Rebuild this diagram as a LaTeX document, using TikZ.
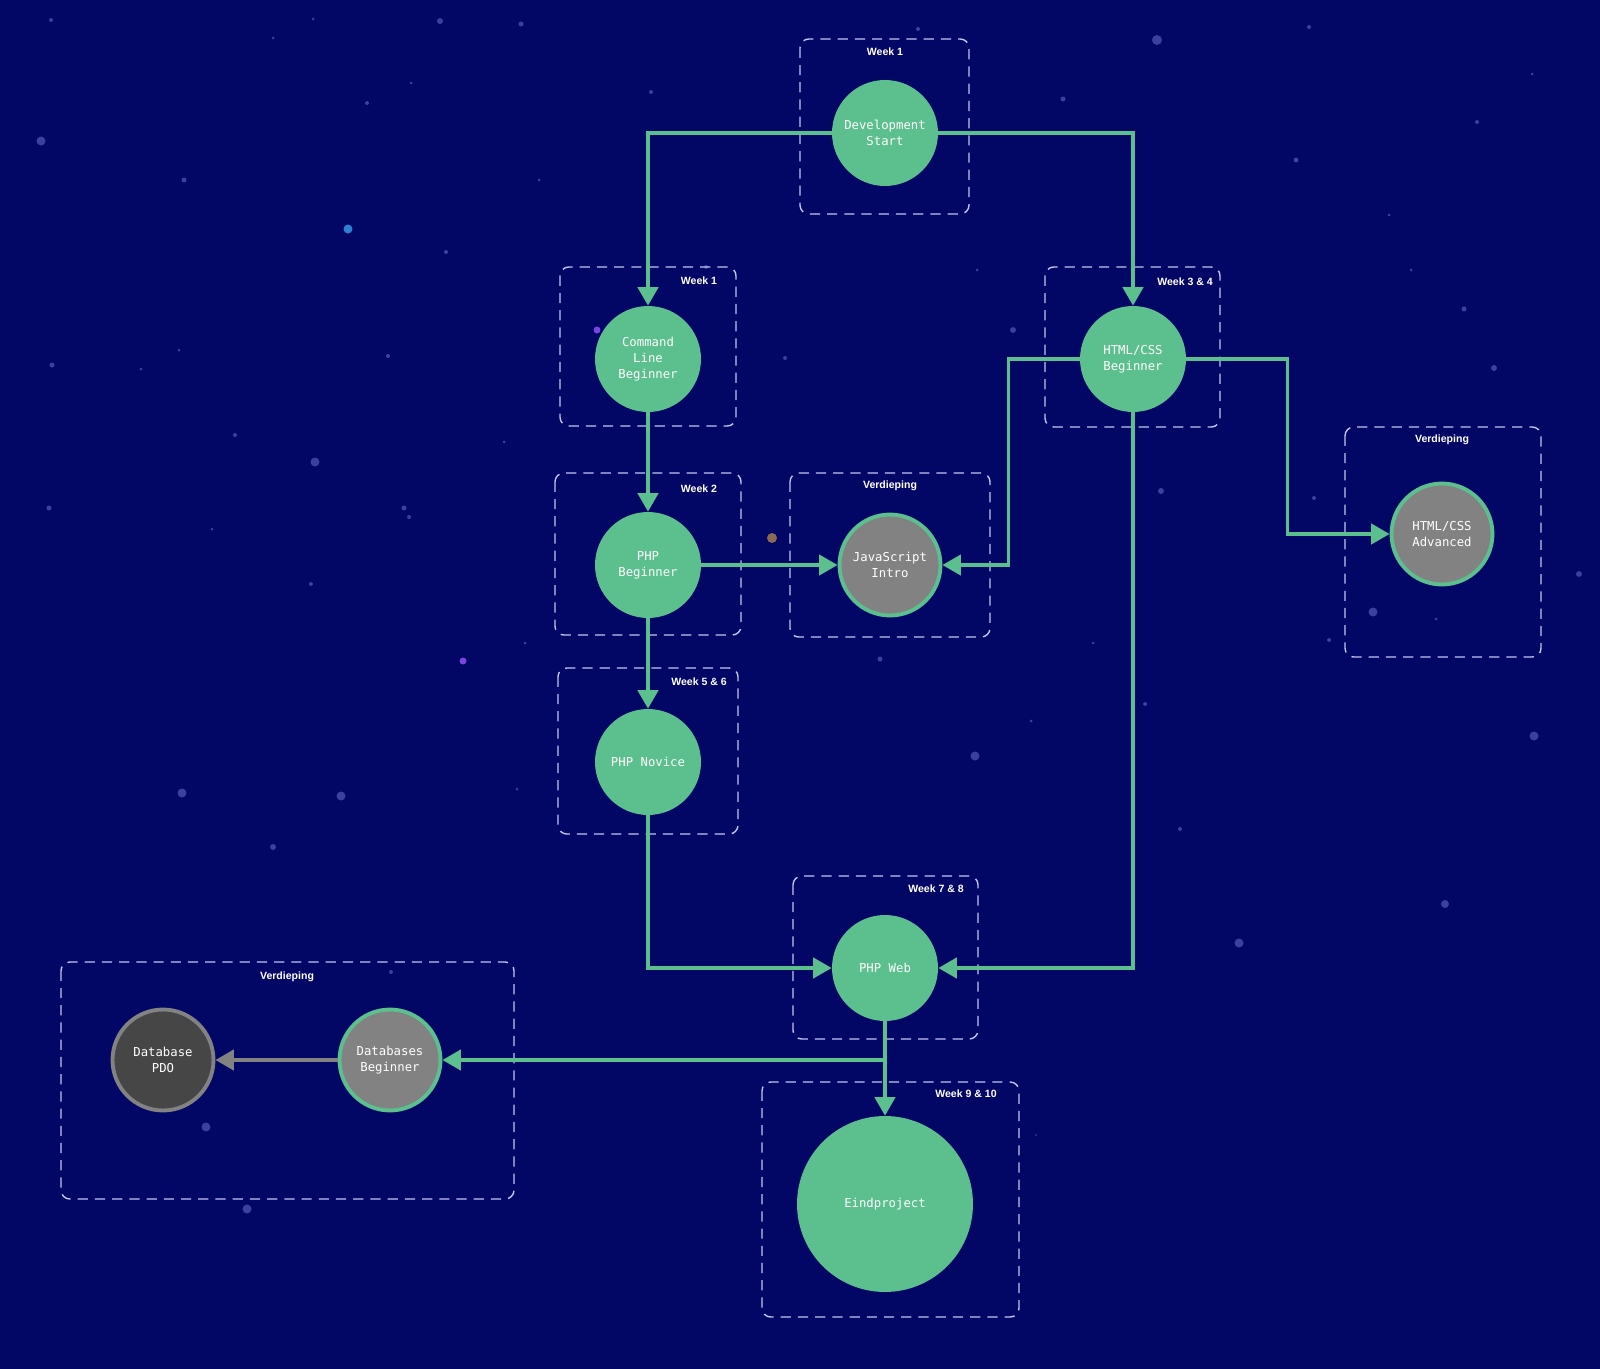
\documentclass[tikz,border=0pt]{standalone}
\usepackage{fontspec}
\setmonofont{DejaVu Sans Mono}
\setsansfont{Liberation Sans}
\usetikzlibrary{arrows.meta}
\definecolor{nightsky}{HTML}{020664}
\definecolor{mint}{HTML}{5BBF8E}
\definecolor{stone}{HTML}{828282}
\definecolor{coal}{HTML}{464646}
\definecolor{frame}{HTML}{C4C6EE}
\definecolor{star}{HTML}{3A3FA0}
\definecolor{starblue}{HTML}{2E7FD0}
\definecolor{starpurple}{HTML}{7A44E0}
\definecolor{starbrown}{HTML}{8A6A52}

\tikzset{
	topic/.style={circle, fill=mint, inner sep=0pt, minimum size=2.12cm, align=center,
		text=white, font=\ttfamily\fontsize{7}{9.25}\selectfont},
	extra/.style={topic, fill=stone, draw=mint, line width=2.2pt, minimum size=2.02cm},
	lane/.style={draw=frame, line width=0.8pt, dash pattern=on 5.8pt off 4pt, rounded corners=5pt},
	lanetitle/.style={text=white, inner sep=0pt, font=\sffamily\bfseries\fontsize{6}{7}\selectfont},
	link/.style={draw=mint, line width=2pt, -{Triangle[length=10.5pt,width=11.5pt]}},
}

\begin{document}
\begin{tikzpicture}[x=0.02cm, y=-0.02cm]
			%%%%% SKY %%%%%
			\fill[nightsky] (0, 0) rectangle (1600, 1369);
			\useasboundingbox (0, 0) rectangle (1600, 1369);
			\foreach \x/\y/\r/\c in {51/20/2/star, 273/38/1.5/star, 313/19/1.5/star, 440/21/3/star, 521/24/2.5/star,
				41/141/4.5/star, 184/180/2.5/star, 348/229/4.5/starblue, 446/252/2/star, 367/103/2/star,
				411/83/1.5/star, 539/180/1.5/star, 651/92/2/star, 918/29/2/star, 1157/40/5/star,
				1309/27/2/star, 1532/74/1.5/star, 1477/122/2/star, 1296/160/2.5/star, 1063/99/2.5/star,
				1389/215/1.5/star, 1411/270/1.5/star, 1464/309/2.5/star, 1494/368/3/star, 1579/574/3/star,
				1534/736/4.5/star, 1445/904/4/star, 1239/943/4.5/star, 1180/829/2/star, 1145/704/2/star,
				1031/721/1.5/star, 975/756/4.5/star, 1093/643/1.5/star, 880/659/2.5/star, 785/358/2/star,
				1013/330/3/star, 977/270/1.5/star, 1161/491/3/star, 1329/640/2/star, 1373/612/4.5/star,
				1314/498/2/star, 1436/619/1.5/star, 597/330/3.5/starpurple, 772/538/5/starbrown,
				463/661/3.5/starpurple, 315/462/4.5/star, 235/435/2/star, 404/508/2.5/star, 409/517/2/star,
				49/508/2.5/star, 212/529/1.5/star, 311/584/2/star, 388/356/2/star, 52/365/2.5/star,
				179/350/1.5/star, 141/369/1.5/star, 525/643/1.5/star, 504/442/1.5/star, 517/789/1.5/star,
				341/796/4.5/star, 182/793/4.5/star, 273/847/3/star, 206/1127/4.5/star, 247/1209/4.5/star,
				391/972/2/star, 706/267/2/star, 1036/1135/1/star}
				\fill[\c] (\x, \y) circle (\r);
			
			%%%%% WEEKS %%%%%
			\draw[lane] (800, 39) rectangle (969, 214);
			\node[lanetitle] (t1) at (885, 52) {Week 1};
			\draw[lane] (560, 267) rectangle (736, 426);
			\node[lanetitle] (t2) at (699, 281) {Week 1};
			\draw[lane] (1045, 267) rectangle (1220, 427);
			\node[lanetitle] (t3) at (1185, 282) {Week 3 \& 4};
			\draw[lane] (555, 473) rectangle (741, 635);
			\node[lanetitle] (t4) at (699, 489) {Week 2};
			\draw[lane] (790, 473) rectangle (990, 637);
			\node[lanetitle] (t5) at (890, 486) {Verdieping};
			\draw[lane] (1345, 427) rectangle (1541, 657);
			\node[lanetitle] (t6) at (1442, 440) {Verdieping};
			\draw[lane] (558, 668) rectangle (738, 834);
			\node[lanetitle] (t7) at (699, 682) {Week 5 \& 6};
			\draw[lane] (793, 876) rectangle (978, 1039);
			\node[lanetitle] (t8) at (936, 889) {Week 7 \& 8};
			\draw[lane] (762, 1082) rectangle (1019, 1317);
			\node[lanetitle] (t9) at (966, 1094) {Week 9 \& 10};
			\draw[lane] (61, 962) rectangle (514, 1199);
			\node[lanetitle] (t10) at (287, 977) {Verdieping};
			
			%%%%% TOPICS %%%%%
			\node[topic] (dev) at (885, 133) {Development\\Start};
			\node[topic] (cmd) at (648, 359) {Command\\Line\\Beginner};
			\node[topic] (html) at (1133, 359) {HTML/CSS\\Beginner};
			\node[topic] (php) at (648, 565) {PHP\\Beginner};
			\node[extra] (js) at (890, 565) {JavaScript\\Intro};
			\node[extra] (adv) at (1442, 534) {HTML/CSS\\Advanced};
			\node[topic] (novice) at (648, 762) {PHP Novice};
			\node[topic] (web) at (885, 968) {PHP Web};
			\node[topic, minimum size=3.52cm] (eind) at (885, 1204) {Eindproject};
			\node[extra] (dbb) at (390, 1060) {Databases\\Beginner};
			\node[extra, fill=coal, draw=stone] (pdo) at (163, 1060) {Database\\PDO};
			
			%%%%% LINKS %%%%%
			\draw[link] (dev.west) -| (cmd.north);
			\draw[link] (dev.east) -| (html.north);
			\draw[link] (cmd.south) -- (php.north);
			\draw[link] (php.east) -- (js.west);
			\draw[link] (html.west) -- ++(-71, 0) |- (js.east);
			\draw[link] (html.east) -- ++(101, 0) |- (adv.west);
			\draw[link] (php.south) -- (novice.north);
			\draw[link] (novice.south) |- (web.west);
			\draw[link] (html.south) |- (web.east);
			\draw[link] (web.south) -- (eind.north);
			\draw[link] (web.south) |- (dbb.east);
			\draw[link, draw=stone] (dbb.west) -- (pdo.east);
		\end{tikzpicture}
\end{document}
